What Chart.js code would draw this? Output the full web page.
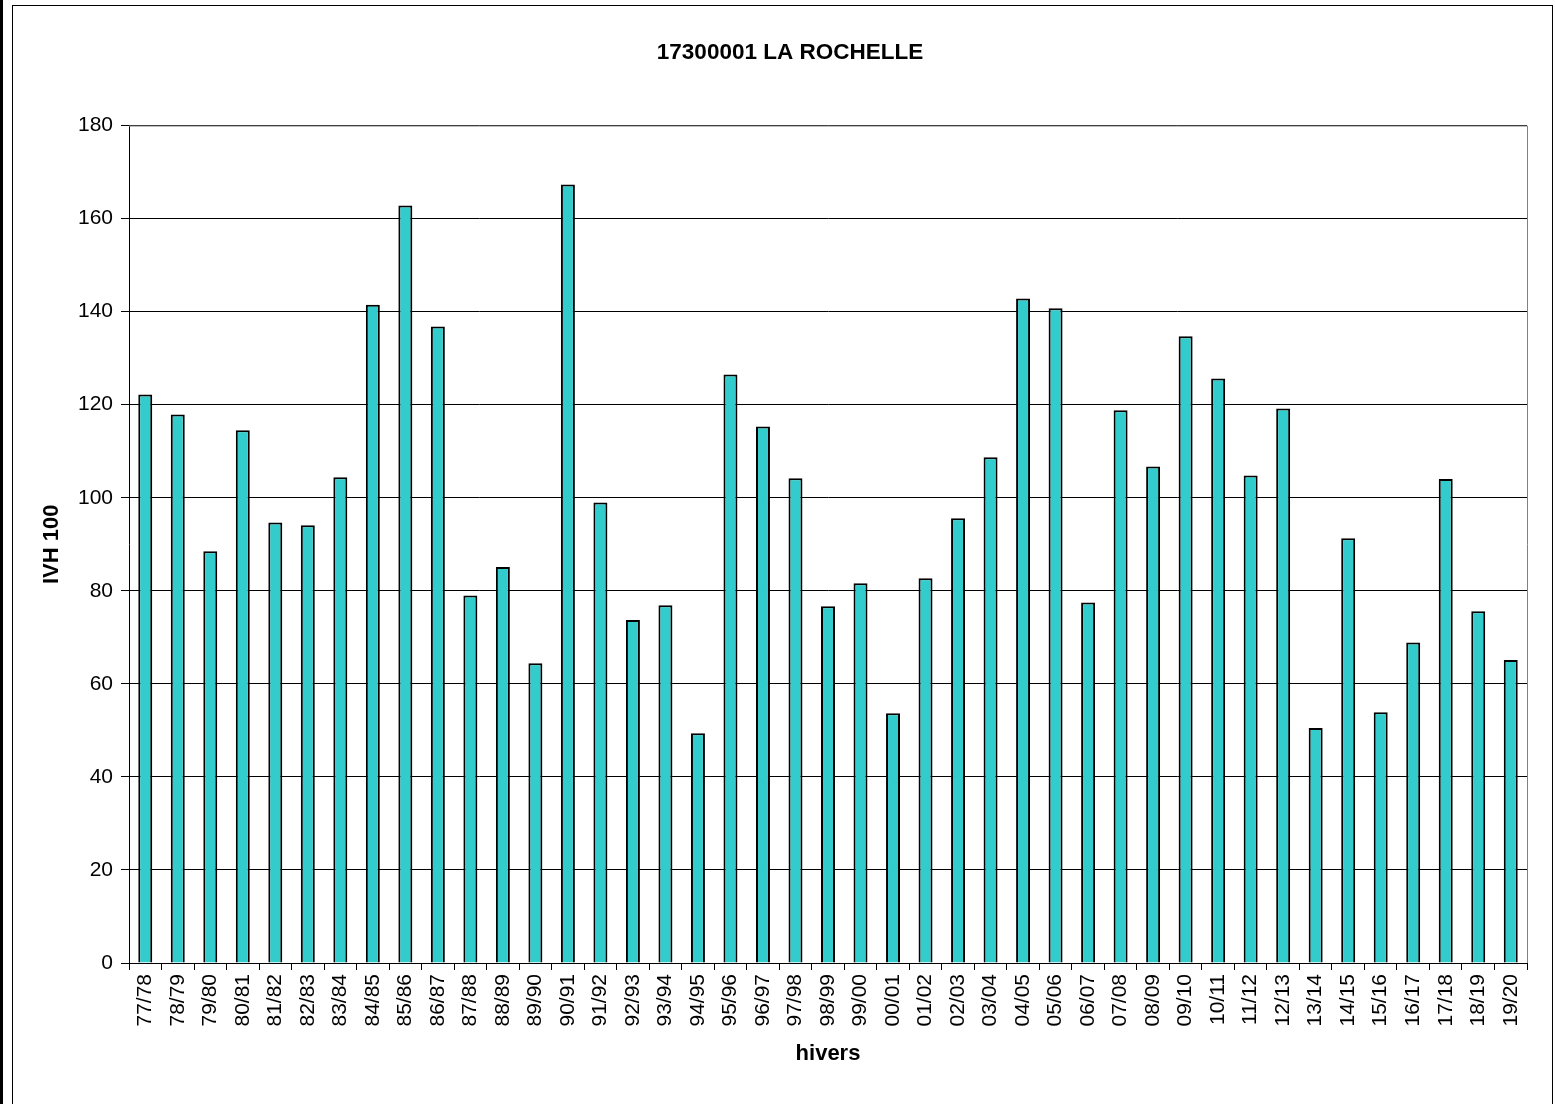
<!DOCTYPE html>
<html>
<head>
<meta charset="utf-8">
<script src="https://cdn.jsdelivr.net/npm/chart.js@4/dist/chart.umd.min.js"></script>
<style>
  body { margin: 0; background: #fff; }
  #wrap { width: 1555px; height: 1104px; position: relative; }
</style>
</head>
<body>
<div id="wrap"><canvas id="bar-chart"></canvas></div>
<script>
// winters (hivers) and IVH 100 values
var hivers = ["77/78","78/79","79/80","80/81","81/82","82/83","83/84","84/85","85/86","86/87",
  "87/88","88/89","89/90","90/91","91/92","92/93","93/94","94/95","95/96","96/97",
  "97/98","98/99","99/00","00/01","01/02","02/03","03/04","04/05","05/06","06/07",
  "07/08","08/09","09/10","10/11","11/12","12/13","13/14","14/15","15/16","16/17",
  "17/18","18/19","19/20"];
var ivh100 = [122.2,117.9,88.5,114.5,94.7,94.1,104.4,141.5,162.8,136.8,
  79.0,85.1,64.4,167.3,99.0,73.7,76.9,49.4,126.5,115.3,
  104.2,76.7,81.6,53.7,82.7,95.6,108.7,142.8,140.7,77.5,
  118.8,106.7,134.7,125.6,104.8,119.2,50.5,91.3,53.9,68.9,
  104.0,75.6,65.1];
var yMin = 0, yMax = 180, yStep = 20;

var FONT = "'Liberation Sans', Arial, sans-serif";

// page frame + gray plot border
var framePlugin = {
  id: 'frame',
  beforeDraw: function(chart) {
    var c = chart.ctx;
    c.save();
    c.fillStyle = '#fff';
    c.fillRect(0, 0, chart.width, chart.height);
    c.fillStyle = '#000';
    c.fillRect(0, 0, 3, chart.height);
    c.strokeStyle = '#000';
    c.lineWidth = 1;
    c.strokeRect(12.5, 5.5, chart.width - 15, chart.height);
    c.restore();
  },
  afterDatasetsDraw: function(chart) {
    var a = chart.chartArea, c = chart.ctx;
    c.save();
    c.strokeStyle = '#808080';
    c.lineWidth = 1;
    c.beginPath();
    c.moveTo(a.left, a.top + 0.5);
    c.lineTo(a.right + 0.5, a.top + 0.5);
    c.lineTo(a.right + 0.5, a.bottom);
    c.stroke();
    c.restore();
  }
};

var ctx = document.getElementById('bar-chart');
var myChart = new Chart(ctx, {
  type: 'bar',
  data: {
    labels: hivers,
    datasets: [{
      data: ivh100,
      label: "IVH 100",
      backgroundColor: "#33CCCC",
      borderColor: "#000000",
      borderWidth: 2,
      barPercentage: 0.43,
      categoryPercentage: 1.0
    }]
  },
  plugins: [framePlugin],
  options: {
    responsive: true,
    maintainAspectRatio: false,
    animation: false,
    layout: { padding: { left: 53, right: 28, top: 0, bottom: 0 } },
    plugins: {
      legend: { display: false },
      tooltip: { enabled: false },
      title: {
        display: true,
        text: "17300001 LA ROCHELLE",
        color: "#000",
        font: { family: FONT, size: 22.5, weight: 'bold' },
        padding: { top: 39, bottom: 59.5 }
      }
    },
    scales: {
      x: {
        afterFit: function(scale) { scale.height = 141; },
        grid: { drawOnChartArea: false, drawTicks: true, tickLength: 7, color: '#000' },
        border: { color: '#000', width: 1 },
        ticks: {
          color: '#000',
          minRotation: 90, maxRotation: 90,
          autoSkip: false,
          padding: 4,
          font: { family: FONT, size: 21 }
        },
        title: {
          display: true,
          text: "hivers",
          color: '#000',
          font: { family: FONT, size: 22, weight: 'bold' },
          padding: { top: 0, bottom: 37 }
        }
      },
      y: {
        min: yMin, max: yMax,
        afterFit: function(scale) { scale.width = 76; },
        grid: { color: '#000', lineWidth: 1, drawTicks: true, tickLength: 8 },
        border: { color: '#000', width: 1 },
        ticks: {
          stepSize: yStep,
          color: '#000',
          padding: 8,
          font: { family: FONT, size: 21 }
        },
        title: {
          display: true,
          text: "IVH 100",
          color: '#000',
          font: { family: FONT, size: 22, weight: 'bold' },
          padding: { top: -14, bottom: 0 }
        }
      }
    }
  }
});
</script>
</body>
</html>
